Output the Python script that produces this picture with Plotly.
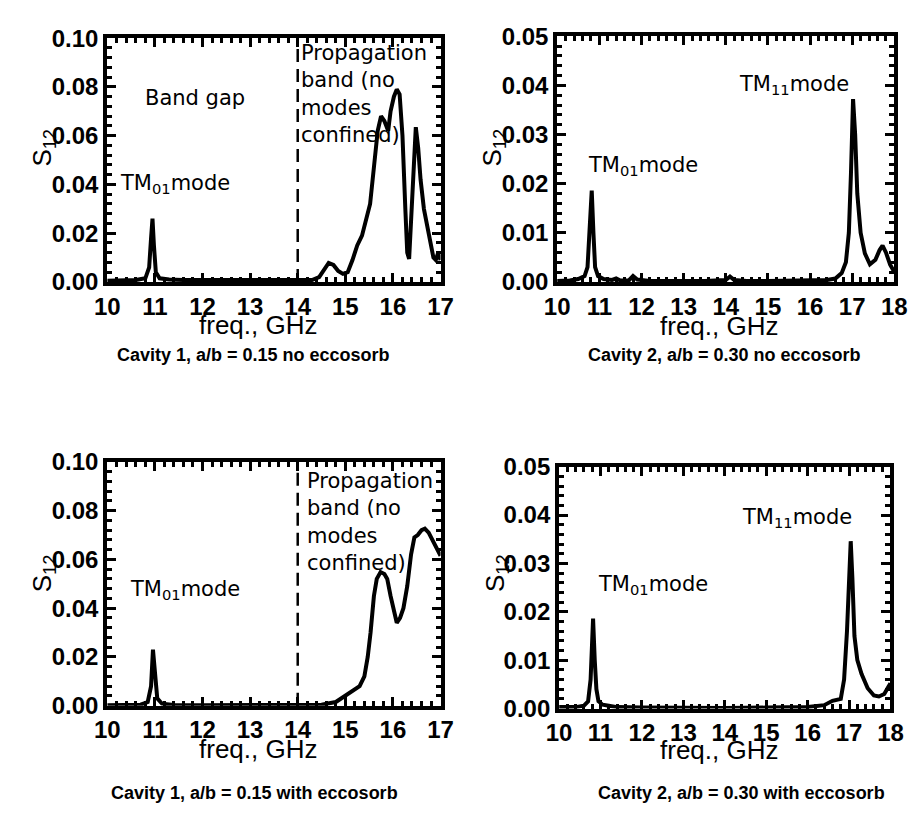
import plotly.graph_objects as go

# ---------------- data ----------------
# Cavity 1, a/b = 0.15, no eccosorb
f1 = [10.0, 10.3, 10.6, 10.8, 10.88, 10.92, 10.95, 10.98, 11.02, 11.1, 11.3, 11.6, 12.0, 12.5, 13.0,
      13.5, 14.0, 14.3, 14.45, 14.55, 14.65, 14.75, 14.85, 14.95, 15.05, 15.15, 15.25, 15.35, 15.45,
      15.52, 15.6, 15.68, 15.75, 15.82, 15.9, 15.95, 16.02, 16.08, 16.14, 16.2, 16.26, 16.3, 16.34,
      16.38, 16.43, 16.48, 16.53, 16.58, 16.65, 16.75, 16.85, 16.9, 16.95, 17.0]
s1 = [0.0005, 0.0006, 0.0008, 0.0015, 0.006, 0.018, 0.026, 0.015, 0.004, 0.0015, 0.001, 0.0008, 0.0008,
      0.0006, 0.0006, 0.0008, 0.001, 0.0008, 0.002, 0.005, 0.0078, 0.007, 0.0045, 0.0033, 0.004, 0.009,
      0.015, 0.019, 0.026, 0.032, 0.047, 0.062, 0.068, 0.066, 0.062, 0.07, 0.076, 0.079, 0.077, 0.06,
      0.03, 0.012, 0.0095, 0.025, 0.05, 0.0635, 0.055, 0.042, 0.03, 0.02, 0.01, 0.009, 0.012, 0.009]

# Cavity 2, a/b = 0.30, no eccosorb
f2 = [10.0, 10.3, 10.5, 10.65, 10.72, 10.77, 10.82, 10.86, 10.9, 10.97, 11.1, 11.3, 11.4, 11.5, 11.7,
      11.8, 11.9, 12.2, 13.0, 13.5, 14.0, 14.1, 14.2, 14.5, 15.0, 15.5, 16.0, 16.4, 16.6, 16.75, 16.85,
      16.92, 16.97, 17.02, 17.07, 17.12, 17.2, 17.3, 17.42, 17.55, 17.65, 17.72, 17.8, 17.9, 18.0]
s2 = [0.0002, 0.0003, 0.0006, 0.0012, 0.003, 0.01, 0.0186, 0.01, 0.003, 0.0012, 0.0006, 0.0004, 0.0007,
      0.0003, 0.0003, 0.0012, 0.0005, 0.0002, 0.0001, 0.0002, 0.0004, 0.0011, 0.0004, 0.0002, 0.0002,
      0.0002, 0.0003, 0.0004, 0.0007, 0.0018, 0.004, 0.01, 0.022, 0.0372, 0.03, 0.018, 0.01, 0.0058,
      0.0036, 0.0045, 0.0065, 0.0074, 0.006, 0.0035, 0.002]

# Cavity 1, a/b = 0.15, with eccosorb
f3 = [10.0, 10.4, 10.7, 10.85, 10.92, 10.96, 11.0, 11.05, 11.15, 11.4, 12.0, 13.0, 14.0, 14.5, 14.8,
      15.0, 15.2, 15.3, 15.4, 15.47, 15.53, 15.6, 15.66, 15.74, 15.82, 15.88, 15.95, 16.02, 16.08,
      16.15, 16.22, 16.3, 16.38, 16.45, 16.52, 16.6, 16.67, 16.75, 16.83, 16.9, 17.0]
s3 = [0.0002, 0.0002, 0.0004, 0.0015, 0.008, 0.023, 0.012, 0.003, 0.0008, 0.0003, 0.0002, 0.0002, 0.0002,
      0.0004, 0.0015, 0.004, 0.0065, 0.008, 0.012, 0.02, 0.03, 0.045, 0.052, 0.0548, 0.054, 0.052, 0.045,
      0.038, 0.034, 0.036, 0.04, 0.049, 0.062, 0.069, 0.07, 0.072, 0.0726, 0.071, 0.068, 0.066, 0.0615]

# Cavity 2, a/b = 0.30, with eccosorb
f4 = [10.0, 10.4, 10.6, 10.7, 10.76, 10.82, 10.86, 10.9, 10.95, 11.05, 11.2, 11.4, 12.0, 13.0, 14.0,
      15.0, 16.0, 16.4, 16.6, 16.8, 16.88, 16.95, 17.0, 17.04, 17.08, 17.13, 17.2, 17.3, 17.45, 17.6,
      17.72, 17.85, 17.95, 18.0]
s4 = [0.0003, 0.0003, 0.0006, 0.0015, 0.006, 0.0186, 0.01, 0.004, 0.0015, 0.0008, 0.0006, 0.0003, 0.0002,
      0.0001, 0.0001, 0.0002, 0.0003, 0.0007, 0.0016, 0.002, 0.006, 0.016, 0.03, 0.0346, 0.027, 0.015,
      0.01, 0.0072, 0.0042, 0.0027, 0.0025, 0.003, 0.0045, 0.0052]

captions = ["Cavity 1, a/b = 0.15 no eccosorb", "Cavity 2, a/b = 0.30 no eccosorb",
            "Cavity 1, a/b = 0.15 with eccosorb", "Cavity 2, a/b = 0.30 with eccosorb"]
x_title = "freq., GHz"
y_title = "S<sub>12</sub>"
x_ranges = [[10, 17], [10, 18], [10, 17], [10, 18]]
y_ranges = [[0, 0.10], [0, 0.05], [0, 0.10], [0, 0.05]]
y_dticks = [0.02, 0.01, 0.02, 0.01]
band_edge = 14.0

# ---------------- layout (pixels of the 920x827 page) ----------------
W, H = 920, 827
boxes = [(97, 440, 25, 277), (560, 907, 23, 277), (97, 440, 463, 715), (562, 903, 468, 718)]
xtitle_pos = [(252, 322), (727, 323), (252, 760), (727, 761)]
caption_pos = [(247, 352), (732, 352), (249, 805), (750, 805)]
ytitle_pos = [(31, 138), (494, 138), (31, 578), (497, 578)]


def px2x(p):
    return p / W


def px2y(p):
    return 1 - p / H


fig = go.Figure()
series = [(f1, s1), (f2, s2), (f3, s3), (f4, s4)]
tick_font = dict(family="Liberation Sans, Arial, sans-serif", size=24, color="black", weight="bold")
ann_font = dict(family="DejaVu Sans, Verdana, sans-serif", size=21, color="black")

for i, (fx, sy) in enumerate(series):
    n = i + 1
    xa = "x" if n == 1 else f"x{n}"
    ya = "y" if n == 1 else f"y{n}"
    fig.add_trace(go.Scatter(x=fx, y=sy, mode="lines", xaxis=xa, yaxis=ya,
                             line=dict(color="black", width=4), showlegend=False,
                             hoverinfo="skip"))
    l, r, t, b = boxes[i]
    axis_common = dict(showline=True, linewidth=4, linecolor="black", mirror="allticks",
                       ticks="inside", tickwidth=3, ticklen=9, tickcolor="black",
                       showgrid=False, zeroline=False, tickfont=tick_font)
    xd = dict(domain=[px2x(l), px2x(r)], range=x_ranges[i], dtick=1, anchor=ya,
              minor=dict(ticks="inside", dtick=0.2, ticklen=5, tickwidth=3, tickcolor="black"),
              **axis_common)
    yd = dict(domain=[px2y(b), px2y(t)], range=y_ranges[i], dtick=y_dticks[i], anchor=xa,
              tickformat=".2f",
              minor=dict(ticks="inside", dtick=y_dticks[i] / 5, ticklen=5, tickwidth=3,
                         tickcolor="black"),
              **axis_common)
    fig.layout["xaxis" if n == 1 else f"xaxis{n}"] = xd
    fig.layout["yaxis" if n == 1 else f"yaxis{n}"] = yd

    # y-axis title
    fig.add_annotation(xref="paper", yref="paper", x=px2x(ytitle_pos[i][0]), y=px2y(ytitle_pos[i][1]),
                       text=y_title, textangle=-90, showarrow=False, xanchor="center",
                       yanchor="middle",
                       font=dict(family="Liberation Sans, Arial, sans-serif", size=26, color="black"))
    # x-axis title
    fig.add_annotation(xref="paper", yref="paper", x=px2x(xtitle_pos[i][0]), y=px2y(xtitle_pos[i][1]),
                       text=x_title, showarrow=False, xanchor="center", yanchor="middle",
                       font=dict(family="Liberation Sans, Arial, sans-serif", size=26, color="black"))
    # caption
    fig.add_annotation(xref="paper", yref="paper", x=px2x(caption_pos[i][0]), y=px2y(caption_pos[i][1]),
                       text=captions[i], showarrow=False, xanchor="center", yanchor="middle",
                       font=dict(family="Liberation Sans, Arial, sans-serif", size=18,
                                 color="black", weight="bold"))

# dashed band edge lines (cavity 1 plots)
for n in (1, 3):
    xa = "x" if n == 1 else f"x{n}"
    ya = "y" if n == 1 else f"y{n}"
    fig.add_shape(type="line", xref=xa, yref=ya, x0=band_edge, x1=band_edge, y0=0, y1=0.097,
                  line=dict(color="black", width=2.5, dash="13px,7px"))


# text annotations in data coordinates
def ann(n, x, y, text, xanchor="left", yanchor="middle"):
    xa = "x" if n == 1 else f"x{n}"
    ya = "y" if n == 1 else f"y{n}"
    fig.add_annotation(xref=xa, yref=ya, x=x, y=y, text=text, showarrow=False,
                       xanchor=xanchor, yanchor=yanchor, align="left", font=ann_font)


prop_text = "Propagation<br>band (no<br>modes<br>confined)"
ann(1, 11.84, 0.0755, "Band gap", xanchor="center")
ann(1, 10.23, 0.040, "TM<sub>01</sub>mode")
ann(1, 14.02, 0.0995, prop_text, yanchor="top")
ann(2, 10.69, 0.0235, "TM<sub>01</sub>mode")
ann(2, 14.26, 0.040, "TM<sub>11</sub>mode")
ann(3, 10.44, 0.0475, "TM<sub>01</sub>mode")
ann(3, 14.16, 0.098, prop_text, yanchor="top")
ann(4, 10.89, 0.0255, "TM<sub>01</sub>mode")
ann(4, 14.37, 0.0395, "TM<sub>11</sub>mode")

fig.update_layout(width=W, height=H, margin=dict(l=0, r=0, t=0, b=0),
                  paper_bgcolor="white", plot_bgcolor="white")

fig.write_html("out.html",
               post_script="document.body.style.margin='0px';document.body.style.overflow='hidden';")
